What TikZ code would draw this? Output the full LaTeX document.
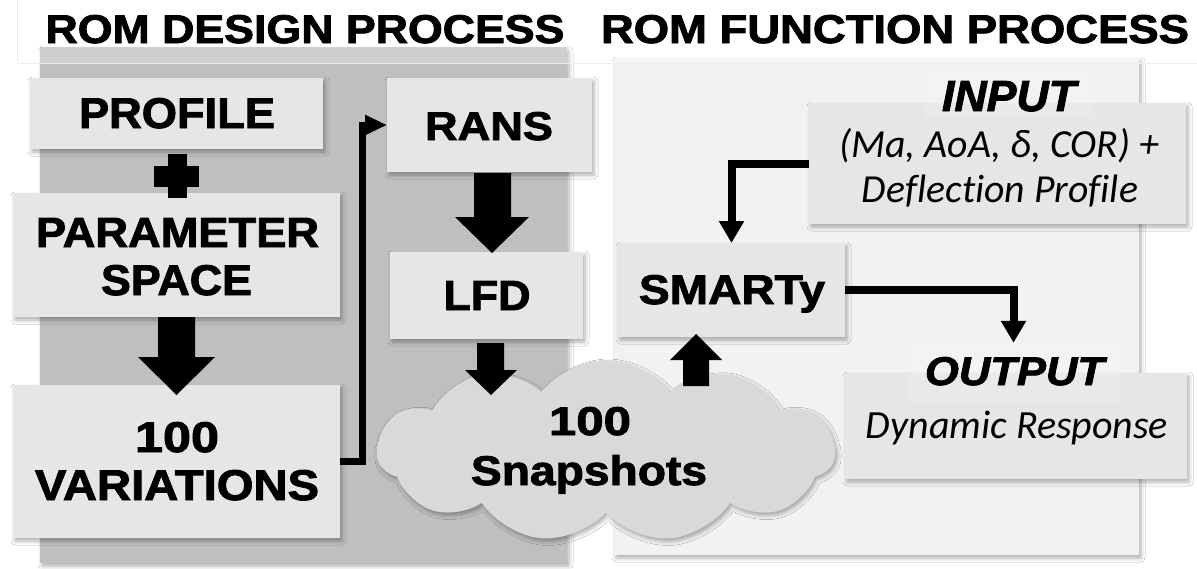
\documentclass[tikz,border=0pt]{standalone}
\usepackage{fontspec}
\usepackage{graphicx}
\setmainfont{Liberation Sans}
\newfontfamily\hvyfont{Liberation Sans Bold}[FakeBold=2]
\newfontfamily\hvyifont{Liberation Sans Bold Italic}[FakeBold=2]
\newfontfamily\carl{Carlito}[Ligatures={NoCommon,NoRare}]
\usetikzlibrary{shapes.symbols,shadows.blur,arrows.meta}
\newcommand\fitb[3]{\resizebox{#1pt}{#2pt}{\hvyfont #3}}
\newcommand\fitbi[3]{\resizebox{#1pt}{#2pt}{\hvyifont #3}}
\newcommand\fiti[2]{\resizebox{#1pt}{!}{\carl\itshape #2}}
\definecolor{panelL}{HTML}{BFBFBF}
\definecolor{panelR}{HTML}{F2F2F2}
\definecolor{boxg}{HTML}{E6E6E6}
\definecolor{cloudg}{HTML}{D9D9D9}
\tikzset{
  txt/.style={inner sep=0pt, outer sep=0pt, anchor=base},
  sh/.style={blur shadow={shadow xshift=2pt, shadow yshift=-3pt, shadow blur radius=4pt, shadow opacity=32}},
  boxnode/.style={rectangle, fill=boxg, draw=none, inner sep=0pt, outer sep=0pt, sh},
  conn/.style={line width=7pt, -{Triangle[length=22pt,width=19pt]}},
  connr/.style={line width=8pt, -{Triangle[length=22pt,width=24pt]}},
  blockarrow/.style={fill=black, draw=none},
}
\begin{document}
\begin{tikzpicture}[x=1pt,y=-1pt]
\useasboundingbox (0,0) rectangle (1197,568);
\fill[white] (0,0) rectangle (1197,568);
% panels
\node[rectangle, fill=panelL, inner sep=0pt, minimum width=527pt, minimum height=516pt, sh] (lpanel) at (303.5,305) {};
\node[rectangle, fill=panelR, inner sep=0pt, minimum width=525pt, minimum height=497pt, sh] (rpanel) at (876.5,306.5) {};
% title band
\fill[white, opacity=0.25] (17,0) rectangle (1197,63);
\draw[black!7, line width=0.8pt] (17,0) -- (17,63) -- (1197,63);
% titles
\node[txt] (t1) at (305,43) {\fitb{519}{28}{ROM DESIGN PROCESS}};
\node[txt] (t2) at (895,43) {\fitb{588}{28}{ROM FUNCTION PROCESS}};
% boxes
\node[boxnode, minimum width=293pt, minimum height=71pt] (prof) at (176.5,113.5) {};
\node[boxnode, minimum width=327pt, minimum height=124pt] (param) at (176.5,255) {};
\node[boxnode, minimum width=327pt, minimum height=153pt] (var) at (176.5,461.5) {};
\node[boxnode, minimum width=205pt, minimum height=94pt] (rans) at (489.5,125) {};
\node[boxnode, minimum width=193pt, minimum height=87pt] (lfd) at (486.5,295.5) {};
\node[boxnode, minimum width=227pt, minimum height=94pt] (smarty) at (731.5,290) {};
\node[boxnode, minimum width=377pt, minimum height=121pt] (inp) at (997.5,163.5) {};
\node[boxnode, minimum width=342pt, minimum height=106pt] (outp) at (1016,426) {};
% faint label boxes
\node[rectangle, fill=white, opacity=0.15, inner sep=0pt, minimum width=169pt, minimum height=50pt] (inlbl) at (1009.5,93) {};
\node[rectangle, fill=white, opacity=0.15, inner sep=0pt, minimum width=213pt, minimum height=59pt] (outlbl) at (1013.5,372.5) {};
% cloud
\node[cloud, cloud puffs=11, cloud puff arc=105, aspect=2.5, fill=cloudg, inner sep=0pt,
      minimum width=458pt, minimum height=182pt, sh] (cl) at (606,451) {};
% plus sign
\fill (154,166) rectangle (199,187);
\fill (167.5,154) rectangle (186.5,198);
% texts
\node[txt] (tprof) at (177,128) {\fitb{196}{30}{PROFILE}};
\node[txt] (tparam) at (177.5,247) {\fitb{283}{29}{PARAMETER}};
\node[txt] (tspace) at (176.5,295) {\fitb{151}{30}{SPACE}};
\node[txt] (tvar1) at (177,452) {\fitb{84}{30}{100}};
\node[txt] (tvar2) at (177,500) {\fitb{284}{30}{VARIATIONS}};
\node[txt] (trans) at (489,140) {\fitb{128}{28}{RANS}};
\node[txt] (tlfd) at (487,310) {\fitb{87}{29}{LFD}};
\node[txt] (tsm) at (732,304) {\fitb{186}{29}{SMARTy}};
\node[txt] (tcl1) at (590,435) {\fitb{82}{28}{100}};
\node[txt] (tcl2) at (589,485) {\fitb{236}{30}{Snapshots}};
\node[txt] (tin) at (1009,111) {\fitbi{134}{30}{INPUT}};
\node[txt] (tout) at (1014.5,385) {\fitbi{179}{28}{OUTPUT}};
\node[txt] (tin1) at (999,157) {\fiti{320}{(Ma, AoA, δ, COR) +}};
\node[txt] (tin2) at (1000,202) {\fiti{276}{Deflection Profile}};
\node[txt] (tout1) at (1017,438) {\fiti{302}{Dynamic Response}};
% block arrows
\fill[blockarrow] (158,317) -- (195,317) -- (195,357) -- (215,357) -- (176.5,395) -- (138,357) -- (158,357) -- cycle;
\fill[blockarrow] (474,173) -- (511,173) -- (511,217) -- (529,217) -- (492,253) -- (455,217) -- (474,217) -- cycle;
\fill[blockarrow] (477,343) -- (504,343) -- (504,370) -- (517,370) -- (491,395) -- (465,370) -- (477,370) -- cycle;
\fill[blockarrow] (683,386) -- (709,386) -- (709,360) -- (722,360) -- (696,334) -- (670,360) -- (683,360) -- cycle;
% elbow connectors
\draw[conn] (var.east) -- ++(22,0) |- (rans.west);
\draw[connr] (inp.west) -| (smarty.north);
\draw[connr] (smarty.east) -| (outlbl.north);
\end{tikzpicture}
\end{document}
